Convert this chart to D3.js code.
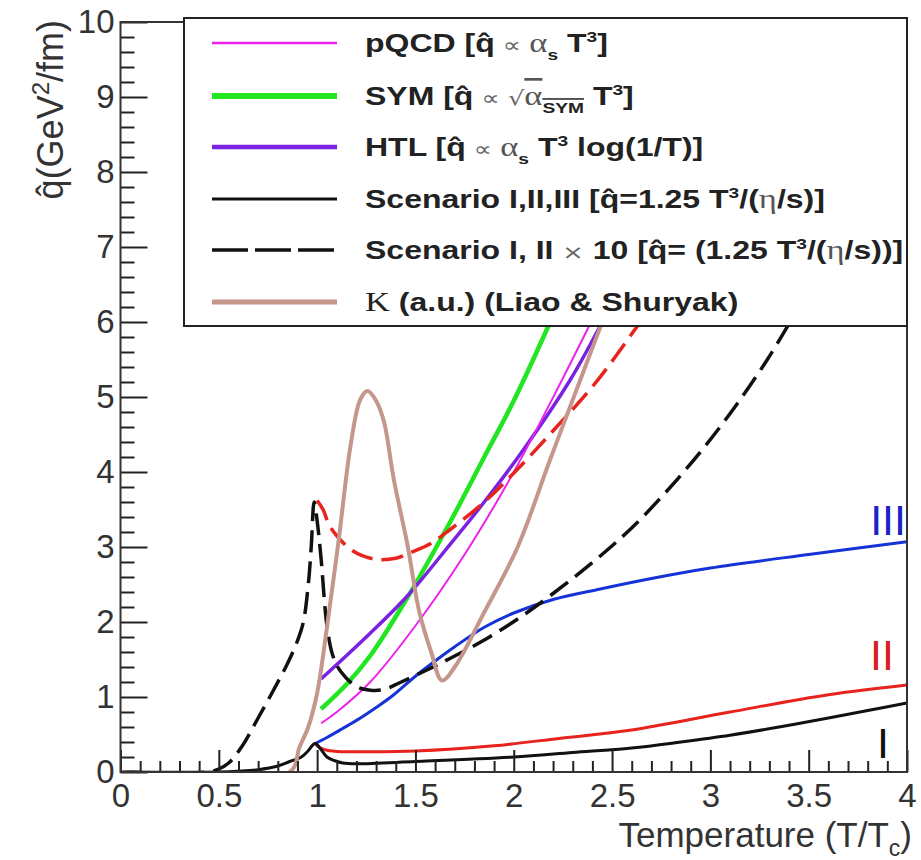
<!DOCTYPE html>
<html><head><meta charset="utf-8">
<script src="https://cdn.jsdelivr.net/npm/d3@7"></script>
<style>body{margin:0;background:#fff}svg{display:block}</style>
</head><body><svg id="c" width="921" height="860"></svg>
<script>
// ---------- data ----------
const xTicks = [0, 0.5, 1, 1.5, 2, 2.5, 3, 3.5, 4];
const yTicks = [0, 1, 2, 3, 4, 5, 6, 7, 8, 9, 10];

// Scenario I (solid black)
const T_I  = [0, 0.5, 0.6, 0.7, 0.8, 0.86, 0.92, 0.95, 0.99, 1.02, 1.05, 1.09, 1.13, 1.2, 1.5, 2.0, 2.3, 2.6, 2.85, 3.1, 3.35, 3.6, 3.8, 4.0];
const Q_I  = [0, 0, 0.01, 0.03, 0.08, 0.14, 0.2, 0.27, 0.38, 0.3, 0.2, 0.15, 0.12, 0.11, 0.14, 0.2, 0.26, 0.32, 0.4, 0.49, 0.6, 0.72, 0.82, 0.92];
// Scenario II (solid red)
const T_II = [0.99, 1.01, 1.05, 1.13, 1.22, 1.5, 1.9, 2.24, 2.6, 3.1, 3.6, 4.0];
const Q_II = [0.38, 0.33, 0.29, 0.27, 0.27, 0.28, 0.35, 0.45, 0.56, 0.8, 1.03, 1.16];
// Scenario III (solid blue)
const T_III = [0.99, 1.05, 1.13, 1.22, 1.3, 1.39, 1.51, 1.6, 1.7, 1.85, 2.0, 2.2, 2.44, 2.7, 3.0, 3.5, 4.0];
const Q_III = [0.38, 0.46, 0.58, 0.72, 0.86, 1.03, 1.3, 1.48, 1.67, 1.93, 2.12, 2.3, 2.44, 2.58, 2.72, 2.9, 3.07];
// Scenario I x 10 (dashed black)
const T_Ix10 = [0, 0.44, 0.5, 0.55, 0.62, 0.7, 0.78, 0.85, 0.9, 0.93, 0.955, 0.97, 0.985, 1.0, 1.02, 1.05, 1.08, 1.12, 1.2, 1.27, 1.34, 1.42, 1.55, 1.68, 1.85, 2.02, 2.2, 2.44, 2.61, 2.78, 2.95, 3.12, 3.29, 3.45];
const Q_Ix10 = [0, 0, 0.04, 0.12, 0.35, 0.72, 1.1, 1.45, 1.75, 2.0, 2.5, 3.0, 3.6, 3.35, 2.85, 1.95, 1.55, 1.34, 1.14, 1.09, 1.1, 1.19, 1.35, 1.52, 1.76, 2.04, 2.38, 2.88, 3.28, 3.75, 4.27, 4.85, 5.5, 6.2];
// Scenario II x 10 (dashed red)
const T_IIx10 = [1.0, 1.03, 1.06, 1.1, 1.18, 1.29, 1.4, 1.48, 1.58, 1.68, 1.85, 2.02, 2.2, 2.41, 2.63, 2.75];
const Q_IIx10 = [3.62, 3.5, 3.3, 3.15, 2.95, 2.84, 2.85, 2.93, 3.05, 3.24, 3.6, 4.04, 4.55, 5.17, 5.95, 6.4];
// pQCD (magenta)
const T_pqcd = [1.02, 1.1, 1.27, 1.5, 1.75, 2.0, 2.24, 2.45];
const Q_pqcd = [0.65, 0.8, 1.2, 1.95, 2.9, 4.0, 5.2, 6.3];
// SYM (green)
const T_sym = [1.02, 1.15, 1.27, 1.46, 1.68, 1.85, 2.0, 2.18, 2.3];
const Q_sym = [0.84, 1.17, 1.55, 2.33, 3.35, 4.2, 4.95, 5.97, 6.7];
// HTL (violet)
const T_htl = [1.02, 1.27, 1.46, 1.65, 1.85, 2.05, 2.29, 2.45];
const Q_htl = [1.24, 1.85, 2.35, 2.95, 3.6, 4.3, 5.24, 6.0];
// K (a.u.) Liao & Shuryak (brown)
const T_K = [0, 0.86, 0.91, 0.955, 1.0, 1.05, 1.11, 1.17, 1.22, 1.257, 1.3, 1.34, 1.39, 1.46, 1.52, 1.58, 1.635, 1.7, 1.85, 2.02, 2.18, 2.34, 2.45];
const Q_K = [0, 0, 0.33, 0.6, 1.05, 1.93, 3.1, 4.35, 4.97, 5.08, 4.95, 4.67, 3.9, 3.02, 2.13, 1.6, 1.22, 1.4, 2.13, 3.0, 4.13, 5.24, 6.0];

const legendLabels = [
  [{t:"pQCD ["},{t:"q\u0302"},{t:" \u221D ",k:"op"},{t:"\u03B1",k:"gr"},{t:"s",k:"sub"},{t:" T"},{t:"3",k:"sup"},{t:"]"}],
  [{t:"SYM ["},{t:"q\u0302"},{t:" \u221D ",k:"op"},{t:"\u221A",k:"op"},{t:"\u03B1",k:"grover"},{t:"SYM",k:"subover"},{t:" T"},{t:"3",k:"sup"},{t:"]"}],
  [{t:"HTL ["},{t:"q\u0302"},{t:" \u221D ",k:"op"},{t:"\u03B1",k:"gr"},{t:"s",k:"sub"},{t:" T"},{t:"3",k:"sup"},{t:" log(1/T)]"}],
  [{t:"Scenario I,II,III ["},{t:"q\u0302"},{t:"=1.25 T"},{t:"3",k:"sup"},{t:"/("},{t:"\u03B7",k:"gr"},{t:"/s)]"}],
  [{t:"Scenario I, II "},{t:"\u00D7",k:"op"},{t:" 10 ["},{t:"q\u0302"},{t:"= (1.25 T"},{t:"3",k:"sup"},{t:"/("},{t:"\u03B7",k:"gr"},{t:"/s))]"}],
  [{t:"K",k:"serif"},{t:" (a.u.) (Liao & Shuryak)"}]
];

// ---------- setup ----------
const svg = d3.select("#c");
const FONT = "'Liberation Sans', Arial, Helvetica, sans-serif";
const x = d3.scaleLinear().domain([0, 4]).range([120.5, 907]);
const y = d3.scaleLinear().domain([0, 10]).range([772, 22]);

const zip = (T, Q) => T.map((t, i) => [t, Q[i]]);
const series = [
  {d: zip(T_III, Q_III), c: "#1533d6", w: 3},
  {d: zip(T_II, Q_II), c: "#e8221c", w: 3},
  {d: zip(T_I, Q_I), c: "#111", w: 3},
  {d: zip(T_sym, Q_sym), c: "#22e622", w: 4.5},
  {d: zip(T_htl, Q_htl), c: "#7a22e0", w: 3.5},
  {d: zip(T_pqcd, Q_pqcd), c: "#ee22ee", w: 2},
  {d: zip(T_Ix10, Q_Ix10), c: "#111", w: 3.5, dash: "22,9"},
  {d: zip(T_IIx10, Q_IIx10), c: "#e8221c", w: 3.5, dash: "22,9"},
  {d: zip(T_K, Q_K), c: "#c4968c", w: 4}
];

svg.append("clipPath").attr("id", "pc").append("rect")
  .attr("x", x(0)).attr("y", y(10)).attr("width", x(4) - x(0)).attr("height", y(0) - y(10));

const line = d3.line().x(d => x(d[0])).y(d => y(d[1])).curve(d3.curveCatmullRom.alpha(0.5));
const gp = svg.append("g").attr("clip-path", "url(#pc)");
series.forEach(s => {
  gp.append("path").attr("d", line(s.d)).attr("fill", "none")
    .attr("stroke", s.c).attr("stroke-width", s.w)
    .attr("stroke-dasharray", s.dash || null)
    .attr("stroke-linejoin", "round").attr("stroke-linecap", "butt");
});

// ---------- axes ----------
const xMinor = d3.range(0, 4.0001, 0.1).map(v => Math.round(v * 10) / 10).filter(v => !xTicks.includes(v));
const yMinor = d3.range(0, 10.0001, 0.2).map(v => Math.round(v * 10) / 10).filter(v => !yTicks.includes(v));

function styleAxis(g) {
  g.select(".domain").remove();
  g.selectAll("line").attr("stroke", "#222").attr("stroke-width", 2);
  g.selectAll("text").attr("font-family", FONT).attr("font-size", 33).attr("fill", "#333");
}
svg.append("g").attr("transform", `translate(0,${y(0)})`)
  .call(d3.axisBottom(x).tickValues(xMinor).tickSize(-11).tickFormat(""))
  .call(styleAxis);
svg.append("g").attr("transform", `translate(0,${y(0)})`)
  .call(d3.axisBottom(x).tickValues(xTicks).tickSize(-22).tickPadding(12).tickFormat(d3.format("")))
  .call(styleAxis);
svg.append("g").attr("transform", `translate(${x(0)},0)`)
  .call(d3.axisLeft(y).tickValues(yMinor).tickSize(-14).tickFormat(""))
  .call(styleAxis);
svg.append("g").attr("transform", `translate(${x(0)},0)`)
  .call(d3.axisLeft(y).tickValues(yTicks).tickSize(-27).tickPadding(6).tickFormat(d3.format("d")))
  .call(styleAxis);

// frame
svg.append("rect").attr("x", x(0)).attr("y", y(10)).attr("width", x(4) - x(0)).attr("height", y(0) - y(10))
  .attr("fill", "none").attr("stroke", "#333").attr("stroke-width", 2);

// axis titles
const xt = svg.append("text").attr("x", 912).attr("y", 847).attr("text-anchor", "end")
  .attr("font-family", FONT).attr("font-size", 35).attr("fill", "#333");
xt.append("tspan").text("Temperature (T/T");
xt.append("tspan").attr("font-size", 23).attr("dy", 9).text("c");
xt.append("tspan").attr("dy", -9).text(")");

const yt = svg.append("text").attr("transform", "translate(63,20) rotate(-90)").attr("text-anchor", "end")
  .attr("font-family", FONT).attr("font-size", 36).attr("fill", "#333");
yt.append("tspan").text("q\u0302(GeV");
yt.append("tspan").attr("font-size", 24).attr("dy", -14).text("2");
yt.append("tspan").attr("dy", 14).text("/fm)");

// scenario labels
const lab = (t, xx, yy, c) => svg.append("text").attr("x", xx).attr("y", yy).attr("text-anchor", "end")
  .attr("font-family", FONT).attr("font-size", 43).attr("fill", c).text(t);
lab("III", 906, 535, "#1a22c8");
lab("II", 894, 670, "#d82020");
lab("I", 889, 758, "#111");

// ---------- legend ----------
const lg = svg.append("g");
lg.append("rect").attr("x", 184).attr("y", 18).attr("width", 723).attr("height", 308)
  .attr("fill", "#fff").attr("stroke", "#222").attr("stroke-width", 2);
const legRows = [43, 96, 147, 199, 250, 302];
const legStyle = [
  {c: "#ee22ee", w: 2.5}, {c: "#22e622", w: 6}, {c: "#7a22e0", w: 4.5},
  {c: "#111", w: 3}, {c: "#111", w: 3.5, dash: "36,7"}, {c: "#c4968c", w: 5}
];
legRows.forEach((ry, i) => {
  const st = legStyle[i];
  lg.append("line").attr("x1", 212).attr("x2", 337).attr("y1", ry).attr("y2", ry)
    .attr("stroke", st.c).attr("stroke-width", st.w).attr("stroke-dasharray", st.dash || null);
  const tx = lg.append("text").attr("transform", `translate(365,${ry + 9}) scale(1.28,1)`)
    .attr("font-family", FONT).attr("font-size", 25).attr("font-weight", "bold").attr("fill", "#222");
  let shift = 0;
  legendLabels[i].forEach(seg => {
    const ts = tx.append("tspan").text(seg.t);
    let target = 0;
    if (seg.k === "sub" || seg.k === "subover") { target = 8; ts.attr("font-size", 15); }
    if (seg.k === "sup") { target = -10; ts.attr("font-size", 15); }
    if (seg.k === "op") ts.attr("font-weight", "normal").attr("font-size", 20).attr("fill", "#666").attr("font-family", "'DejaVu Sans', sans-serif");
    if (seg.k === "gr" || seg.k === "grover") ts.attr("font-weight", "normal").attr("font-size", 27).attr("font-family", "'Liberation Serif', 'DejaVu Serif', serif").attr("fill", "#555");
    if (seg.k === "serif") ts.attr("font-weight", "normal").attr("font-size", 27).attr("font-family", "'Liberation Serif', serif");
    if (seg.k === "grover" || seg.k === "subover") ts.style("text-decoration", "overline");
    if (target !== shift) { ts.attr("dy", target - shift); shift = target; }
  });
});
</script></body></html>
